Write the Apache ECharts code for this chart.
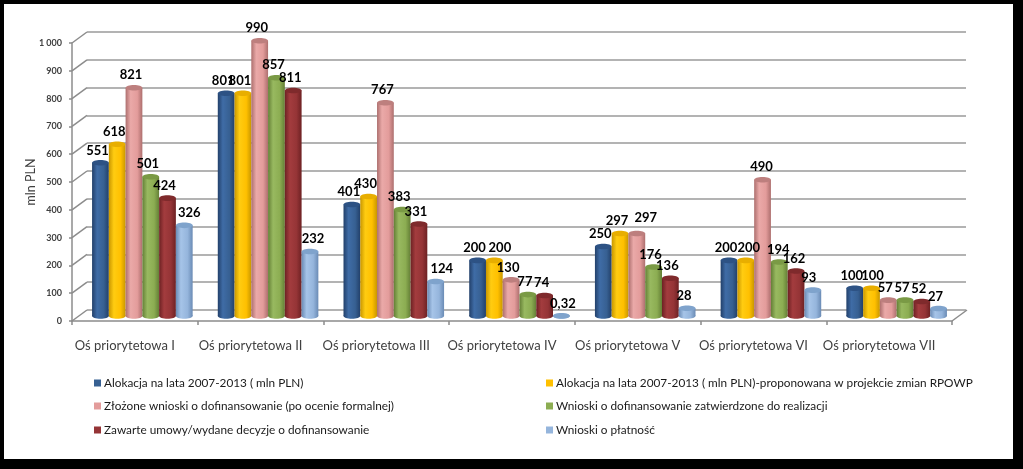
<!DOCTYPE html>
<html>
<head>
<meta charset="utf-8">
<style>
html, body { margin: 0; padding: 0; background: #000; }
#chart { width: 1023px; height: 469px; }
</style>
<script src="https://cdn.jsdelivr.net/npm/echarts@6/dist/echarts.min.js"></script>
</head>
<body>
<div id="chart"></div>
<script>
var categories = ['Oś priorytetowa I', 'Oś priorytetowa II', 'Oś priorytetowa III', 'Oś priorytetowa IV', 'Oś priorytetowa V', 'Oś priorytetowa VI', 'Oś priorytetowa VII'];
var yTicks = [0, 100, 200, 300, 400, 500, 600, 700, 800, 900, 1000];

var alokacja = [551, 801, 401, 200, 250, 200, 100];
var alokacjaRpowp = [618, 801, 430, 200, 297, 200, 100];
var zlozone = [821, 990, 767, 130, 297, 490, 57];
var zatwierdzone = [501, 857, 383, 77, 176, 194, 57];
var umowy = [424, 811, 331, 74, 136, 162, 52];
var platnosci = [326, 232, 124, 0.32, 28, 93, 27];

var seriesNames = [
  'Alokacja na lata 2007-2013 ( mln PLN)',
  'Alokacja na lata 2007-2013 ( mln PLN)-proponowana w projekcie zmian RPOWP',
  'Złożone wnioski o dofinansowanie (po ocenie formalnej)',
  'Wnioski o dofinansowanie zatwierdzone do realizacji',
  'Zawarte umowy/wydane decyzje o dofinansowanie',
  'Wnioski o płatność'
];
var seriesValues = [alokacja, alokacjaRpowp, zlozone, zatwierdzone, umowy, platnosci];
var colors = ['#376092', '#ffc000', '#e39c9b', '#8cad52', '#953436', '#95b5dc'];
var edgeColors = ['#22406a', '#c99700', '#ad6f6e', '#647f36', '#6d2123', '#6a8bb5'];
var lightColors = ['#3f6ca6', '#ffcc11', '#eaa9a8', '#98b960', '#a33c3e', '#a6c4e8'];
var topColors = ['#2d5284', '#e8ae00', '#bd7f7e', '#7a9a45', '#7f2a2c', '#7fa3cc'];

var legendPos = [[94, 377], [546, 377], [94, 400], [546, 400], [94, 424], [546, 424]];

// hand placed data labels in the original: "series,category": [dx, dy]
var labelNudge = {
  '1,3': [8.5, 0], '2,4': [12, -3], '1,5': [6, 0], '2,5': [2, 0], '3,5': [2, 0], '4,5': [1, 0], '1,6': [4, 0],
  '5,0': [8, 0], '5,1': [6, 0], '5,2': [9, 0], '5,3': [4.5, 0], '5,5': [-1, 0], '5,6': [0, 1]
};

function labelText(v) {
  return String(v).replace('.', ',');
}

function barCenter(api, idx, c) {
  var w = api.size([1, 0])[0] * 0.8 / 6;
  return api.coord([c, 0])[0] + (idx - 2.5) * w;
}

// cylinder drawn from the value axis of the middle grid
function cylinder(idx) {
  return function (params, api) {
    var c = api.value(0);
    var v = api.value(1);
    var base = api.coord([c, 0]);
    var top = api.coord([c, v]);
    var w = api.size([1, 0])[0] * 0.8 / 6;
    var x = barCenter(api, idx, c);
    var grad = {
      type: 'linear', x: 0, y: 0, x2: 1, y2: 0,
      colorStops: [
        { offset: 0, color: edgeColors[idx] },
        { offset: 0.3, color: lightColors[idx] },
        { offset: 0.7, color: colors[idx] },
        { offset: 1, color: edgeColors[idx] }
      ]
    };
    var ry = 2.8;
    return {
      type: 'group',
      children: [
        { type: 'ellipse', shape: { cx: x, cy: base[1], rx: w / 2, ry: ry }, style: { fill: grad } },
        { type: 'rect', shape: { x: x - w / 2, y: top[1], width: w, height: base[1] - top[1] }, style: { fill: grad } },
        { type: 'ellipse', shape: { cx: x, cy: top[1], rx: w / 2, ry: ry }, style: { fill: topColors[idx] } }
      ]
    };
  };
}

// data labels sit in their own series so no later bar covers them
function barLabel(idx) {
  return function (params, api) {
    var c = api.value(0);
    var v = api.value(1);
    var nudge = labelNudge[idx + ',' + c] || [0, 0];
    return {
      type: 'text',
      style: {
        x: barCenter(api, idx, c) - 3 + nudge[0],
        y: api.coord([c, v])[1] - 12.5 + nudge[1],
        text: labelText(v),
        fill: '#000', font: 'bold 13px Lato', align: 'center', verticalAlign: 'middle'
      }
    };
  };
}

// depth lines of the walls, front axis to back wall
function depthLines(params, api) {
  var p = api.coord([api.value(0), api.value(1)]);
  var x = p[0] - api.size([1, 0])[0] / 2;
  return {
    type: 'line',
    shape: { x1: x, y1: p[1], x2: x + 15, y2: p[1] - 11 },
    style: { stroke: '#8c8c8c', lineWidth: 1.5 }
  };
}

function floorEdge(params, api) {
  var p = api.coord([api.value(0), api.value(1)]);
  var x = p[0] + api.size([1, 0])[0] / 2;
  return {
    type: 'line',
    shape: { x1: x, y1: p[1], x2: x + 15, y2: p[1] - 11 },
    style: { stroke: '#8c8c8c', lineWidth: 1.5 }
  };
}

var series = [];
seriesNames.forEach(function (name, i) {
  var points = seriesValues[i].map(function (v, c) { return [c, v]; });
  series.push({
    type: 'custom',
    name: name,
    xAxisIndex: 2,
    yAxisIndex: 2,
    z: 5 + i,
    itemStyle: { color: colors[i] },
    renderItem: cylinder(i),
    data: points
  });
  series.push({
    type: 'custom',
    xAxisIndex: 2,
    yAxisIndex: 2,
    z: 20 + i,
    silent: true,
    renderItem: barLabel(i),
    data: points
  });
});
series.push({
  type: 'custom', xAxisIndex: 0, yAxisIndex: 0, z: 2, silent: true,
  renderItem: depthLines, data: yTicks.map(function (t) { return [0, t]; })
});
series.push({
  type: 'custom', xAxisIndex: 0, yAxisIndex: 0, z: 2, silent: true,
  renderItem: floorEdge, data: [[6, 0]]
});

var valueAxisBase = { type: 'value', min: 0, max: 1000, interval: 100 };

var myChart = echarts.init(document.getElementById('chart'));
var option = {
  backgroundColor: '#000',
  animation: false,
  textStyle: { fontFamily: 'Lato' },
  graphic: [{
    type: 'rect', z: -10,
    shape: { x: 4, y: 4, width: 1009, height: 455 },
    style: { fill: '#fff' }
  }],
  legend: seriesNames.map(function (name, i) {
    return {
      data: [name],
      left: legendPos[i][0],
      top: legendPos[i][1],
      padding: 0,
      icon: 'rect',
      itemWidth: 7,
      itemHeight: 7,
      itemGap: 0,
      selectedMode: false,
      textStyle: { fontFamily: 'Lato', fontSize: 11.8, color: '#1a1a1a', padding: [0, 0, 0, -2] }
    };
  }),
  grid: [
    { left: 72, top: 43, width: 880, height: 278 },
    { left: 87, top: 32, width: 879, height: 278 },
    { left: 79.5, top: 38, width: 880, height: 278 }
  ],
  xAxis: [
    {
      type: 'category', gridIndex: 0, data: categories,
      axisLine: { lineStyle: { color: '#8c8c8c', width: 1.5 } },
      axisTick: { show: true, alignWithLabel: false, length: 4, lineStyle: { color: '#8c8c8c', width: 1.5 } },
      axisLabel: { interval: 0, fontSize: 13, color: '#404040', margin: 18, fontFamily: 'Lato', padding: [0, 20, 0, 0] }
    },
    { type: 'category', gridIndex: 1, data: categories, show: false },
    { type: 'category', gridIndex: 2, data: categories, show: false }
  ],
  yAxis: [
    Object.assign({}, valueAxisBase, {
      gridIndex: 0,
      name: 'mln PLN',
      nameLocation: 'middle',
      nameGap: 35,
      nameMoveOverlap: false,
      nameTextStyle: { fontSize: 12.5, color: '#404040', fontFamily: 'Lato' },
      axisLine: { show: true, lineStyle: { color: '#8c8c8c', width: 1.5 } },
      axisTick: { show: true, length: 3, lineStyle: { color: '#8c8c8c', width: 1.5 } },
      axisLabel: {
        fontSize: 9, fontWeight: 'bold', color: '#404040', margin: 10, fontFamily: 'Lato',
        formatter: function (v) { return v == 1000 ? '1 000' : String(v); }
      },
      splitLine: { show: false }
    }),
    Object.assign({}, valueAxisBase, {
      gridIndex: 1,
      axisLine: { show: false },
      axisTick: { show: false },
      axisLabel: { show: false },
      splitLine: { show: true, lineStyle: { color: '#9a9a9a', width: 1.5 } }
    }),
    Object.assign({}, valueAxisBase, { gridIndex: 2, show: false, splitLine: { show: false } })
  ],
  series: series
};
option && myChart.setOption(option);
</script>
</body>
</html>
